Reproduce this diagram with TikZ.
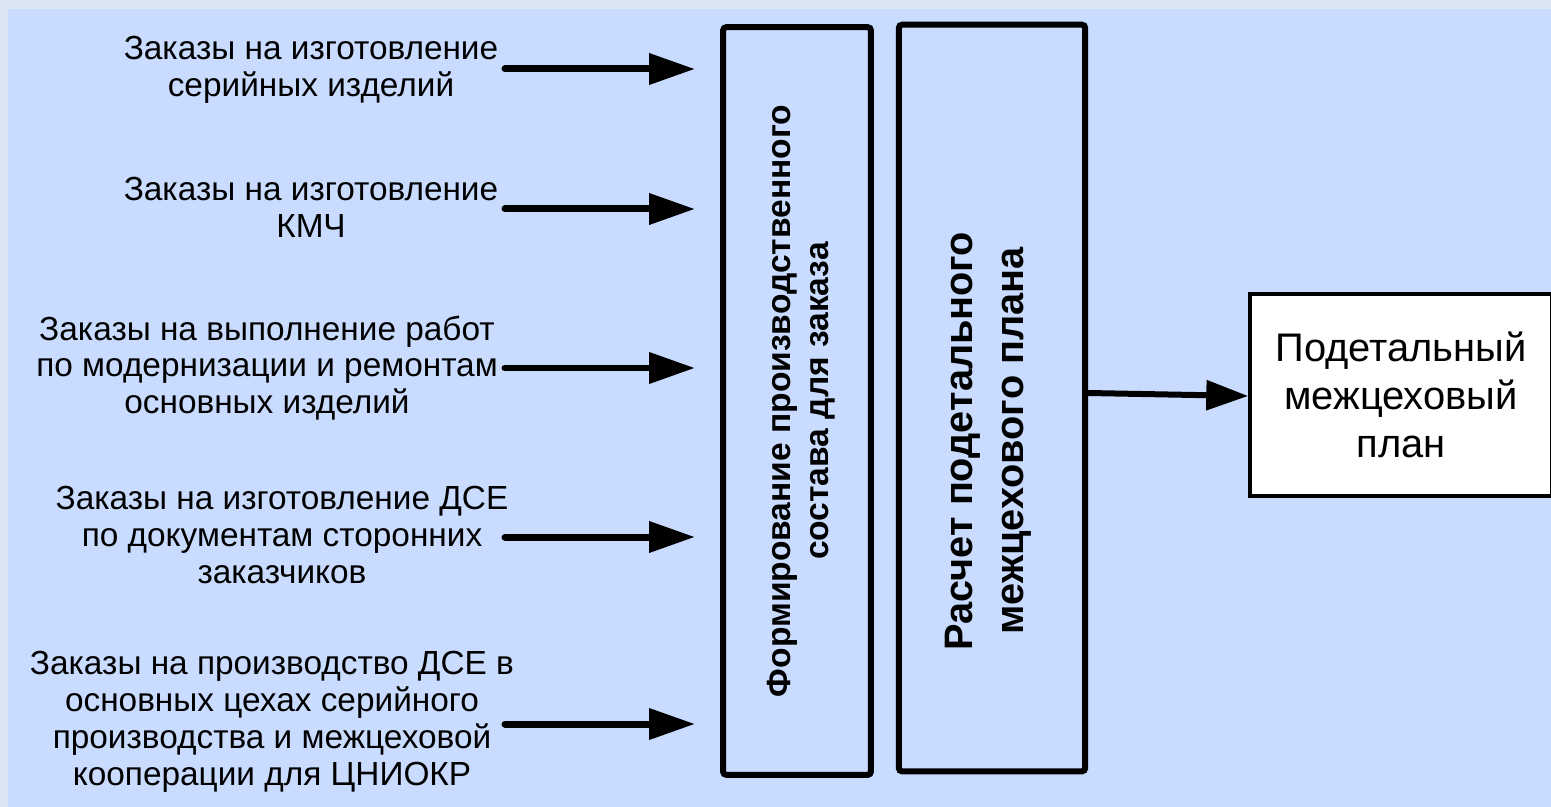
\documentclass[tikz,border=0pt]{standalone}
\usepackage{fontspec}
\setmainfont{Liberation Sans}
\usetikzlibrary{arrows.meta}
\definecolor{outerbg}{RGB}{220,230,242}
\definecolor{innerbg}{RGB}{201,220,255}

\tikzset{
  ordertext/.style={align=center, inner sep=0pt, font=\fontsize{19}{21}\selectfont},
  procbox/.style={draw=black, line width=0.12cm, rounded corners=2pt},
  proctitle/.style={align=center, inner sep=0pt, rotate=90},
  outbox/.style={draw=black, fill=white, line width=0.07cm, align=center,
    minimum width=6.04cm, minimum height=4.05cm, font=\fontsize{22.7}{27.5}\selectfont},
  flow/.style={line width=0.14cm, line cap=round, -{Triangle[length=0.92cm, width=0.6cm]}}
}

\begin{document}
\begin{tikzpicture}[x=0.02cm, y=-0.02cm]
	\fill[outerbg] (0,0) rectangle (1551,807);
	\fill[innerbg] (8,9) rectangle (1551,807);
	\useasboundingbox (0,0) rectangle (1551,807);

	\node[ordertext] (o1) at (311,70) {Заказы на изготовление\\серийных изделий};
	\node[ordertext] (o2) at (311,207) {Заказы на изготовление\\КМЧ};
	\node[ordertext] (o3) at (267,368) {Заказы на выполнение работ\\по модернизации и ремонтам\\основных изделий};
	\node[ordertext] (o4) at (282,535) {Заказы на изготовление ДСЕ\\по документам сторонних\\заказчиков};
	\node[ordertext] (o5) at (272,722) {Заказы на производство ДСЕ в\\основных цехах серийного\\производства и межцеховой\\кооперации для ЦНИОКР};

	\node[procbox, minimum width=2.96cm, minimum height=14.96cm] (form) at (797,401) {};
	\node[proctitle, font=\bfseries\fontsize{19.1}{21.5}\selectfont] (formt) at (801,401)
		{Формирование производственного\\состава для заказа};
	\node[procbox, minimum width=3.73cm, minimum height=14.94cm] (calc) at (992,398) {};
	\node[proctitle, font=\bfseries\fontsize{22.6}{29}\selectfont] (calct) at (988,441)
		{Расчет подетального\\межцехового плана};

	\node[outbox] (plan) at (1401,395) {Подетальный\\межцеховый\\план};

	\coordinate (s1) at (505,69);
	\coordinate (s2) at (505,209);
	\coordinate (s3) at (505,368);
	\coordinate (s4) at (505,537);
	\coordinate (s5) at (505,724);
	\draw [flow, shorten >=0.5cm] (s1) -- (s1 -| form.west);
	\draw [flow, shorten >=0.5cm] (s2) -- (s2 -| form.west);
	\draw [flow, shorten >=0.5cm] (s3) -- (s3 -| form.west);
	\draw [flow, shorten >=0.5cm] (s4) -- (s4 -| form.west);
	\draw [flow, shorten >=0.5cm] (s5) -- (s5 -| form.west);
	\draw [flow, line width=0.12cm, -{Triangle[length=0.84cm, width=0.58cm]}]
		(calc.east |- 0,393) -- (plan.west |- 0,396);
\end{tikzpicture}
\end{document}
